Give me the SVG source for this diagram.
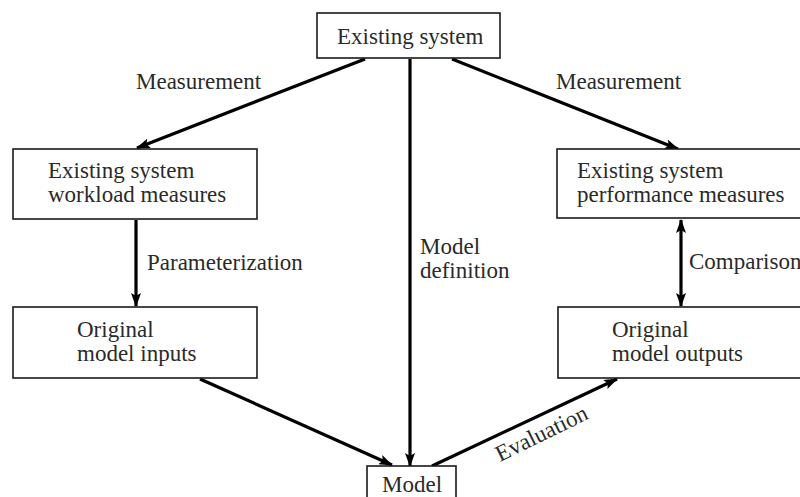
<svg xmlns="http://www.w3.org/2000/svg" width="800" height="497" viewBox="0 0 800 497">
  <style>
    .box { fill: #ffffff; stroke: #1a1a1a; stroke-width: 1.6; }
    .lbl { font-family: "Liberation Serif", "Times New Roman", serif; font-size: 23px; fill: #2a2a2a; }
    .edge { stroke: #000000; stroke-width: 3.2; fill: none; }
  </style>
  <defs>
    <marker id="head" viewBox="0 0 14 10" refX="13" refY="5" markerWidth="14" markerHeight="10" markerUnits="userSpaceOnUse" orient="auto-start-reverse">
      <path d="M0,0 L14,5 L0,10 L3,5 Z" fill="#000000"/>
    </marker>
  </defs>

  <rect width="800" height="497" fill="#ffffff"/>

  <!-- connectors -->
  <g id="connectors">
    <line class="edge" x1="365" y1="59" x2="137" y2="148" marker-end="url(#head)"/>
    <line class="edge" x1="452" y1="59" x2="678" y2="149" marker-end="url(#head)"/>
    <line class="edge" x1="410" y1="59" x2="410" y2="466" marker-end="url(#head)"/>
    <line class="edge" x1="136" y1="220" x2="136" y2="306" marker-end="url(#head)"/>
    <line class="edge" x1="681" y1="220" x2="681" y2="306" marker-start="url(#head)" marker-end="url(#head)"/>
    <line class="edge" x1="200" y1="379" x2="392" y2="465" marker-end="url(#head)"/>
    <line class="edge" x1="432" y1="466" x2="617" y2="379" marker-end="url(#head)"/>
    <text class="lbl" x="136" y="89">Measurement</text>
    <text class="lbl" x="556" y="89">Measurement</text>
    <text class="lbl" x="147" y="270">Parameterization</text>
    <text class="lbl" x="420" y="254">Model</text>
    <text class="lbl" x="420" y="278">definition</text>
    <text class="lbl" x="689" y="269">Comparison</text>
    <text class="lbl" transform="translate(500,462) rotate(-26)">Evaluation</text>
  </g>

  <g id="existing-system">
    <rect class="box" x="317" y="13" width="183" height="45"/>
    <text class="lbl" x="337" y="44">Existing system</text>
  </g>

  <g id="workload-measures">
    <rect class="box" x="13" y="149" width="244" height="70"/>
    <text class="lbl" x="48" y="178">Existing system</text>
    <text class="lbl" x="48" y="202">workload measures</text>
  </g>

  <g id="performance-measures">
    <rect class="box" x="557" y="149" width="250" height="69"/>
    <text class="lbl" x="577" y="178">Existing system</text>
    <text class="lbl" x="577" y="202">performance measures</text>
  </g>

  <g id="model-inputs">
    <rect class="box" x="13" y="307" width="244" height="71"/>
    <text class="lbl" x="77" y="337">Original</text>
    <text class="lbl" x="77" y="361">model inputs</text>
  </g>

  <g id="model-outputs">
    <rect class="box" x="558" y="307" width="250" height="71"/>
    <text class="lbl" x="612" y="337">Original</text>
    <text class="lbl" x="612" y="361">model outputs</text>
  </g>

  <g id="model">
    <rect class="box" x="367" y="466" width="89" height="40"/>
    <text class="lbl" x="382" y="492">Model</text>
  </g>
</svg>
